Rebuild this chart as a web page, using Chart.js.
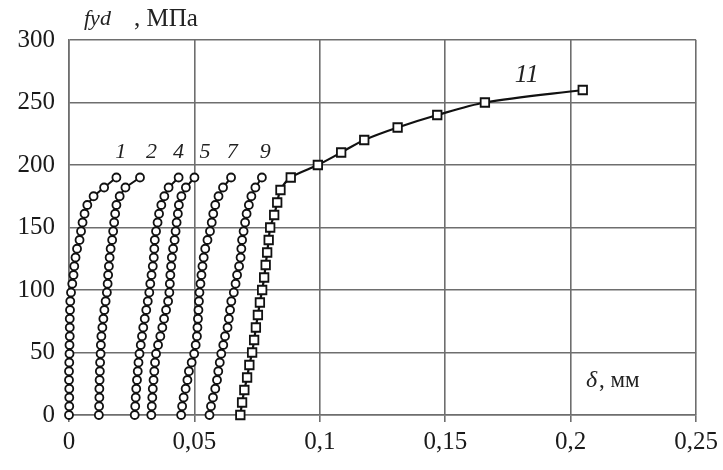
<!DOCTYPE html>
<html><head><meta charset="utf-8">
<script src="https://cdn.jsdelivr.net/npm/chart.js@4.4.1/dist/chart.umd.min.js"></script>
<style>html,body{margin:0;padding:0;background:#fff;}</style>
</head><body>
<canvas id="c" width="723" height="470"></canvas>
<script>
// ---- data ----
const X_TICKS = [0, 0.05, 0.1, 0.15, 0.2, 0.25];
const Y_TICKS = [0, 50, 100, 150, 200, 250, 300];

// stress levels (MPa) of the circle-marked curves 1,2,4,5,7,9
const STRESS_C = [0,7,14,21,28,35,42,49,56,63,70,77,84,91,98,105,112,119,126,133,140,147,154,161,168,175,182,190];

// displacement (mm) of each circle curve at those stress levels
const DISP_1 = [0,0.0001,0.0001,0.0001,0,0,0.0001,0.0002,0.0002,0.0003,0.0003,0.0003,0.0004,0.0005,0.0008,0.0013,0.0018,0.0021,0.0026,0.0032,0.0042,0.0048,0.0054,0.0062,0.0073,0.0098,0.0140,0.0189];
const DISP_2 = [0.0119,0.0120,0.0121,0.0121,0.0122,0.0123,0.0124,0.0126,0.0127,0.0129,0.0133,0.0137,0.0141,0.0146,0.0151,0.0154,0.0156,0.0159,0.0162,0.0166,0.0172,0.0176,0.0180,0.0184,0.0189,0.0202,0.0225,0.0283];
const DISP_4 = [0.0262,0.0264,0.0266,0.0268,0.0271,0.0274,0.0277,0.0281,0.0286,0.0291,0.0296,0.0302,0.0308,0.0314,0.0320,0.0324,0.0329,0.0334,0.0338,0.0340,0.0342,0.0347,0.0353,0.0359,0.0368,0.0380,0.0397,0.0437];
const DISP_5 = [0.0328,0.0330,0.0332,0.0334,0.0337,0.0340,0.0343,0.0347,0.0355,0.0364,0.0372,0.0379,0.0387,0.0395,0.0400,0.0402,0.0404,0.0407,0.0410,0.0415,0.0421,0.0425,0.0429,0.0434,0.0438,0.0448,0.0466,0.0500];
const DISP_7 = [0.0447,0.0451,0.0457,0.0465,0.0472,0.0478,0.0489,0.0499,0.0505,0.0510,0.0512,0.0514,0.0516,0.0518,0.0520,0.0524,0.0528,0.0532,0.0537,0.0543,0.0552,0.0562,0.0569,0.0575,0.0583,0.0596,0.0614,0.0646];
const DISP_9 = [0.0560,0.0566,0.0574,0.0583,0.0590,0.0595,0.0601,0.0607,0.0615,0.0622,0.0632,0.0637,0.0642,0.0647,0.0657,0.0664,0.0670,0.0678,0.0684,0.0687,0.0690,0.0696,0.0702,0.0708,0.0717,0.0727,0.0743,0.0769];

// curve 11 (square markers)
const STRESS_11 = [0,10,20,30,40,50,60,70,80,90,100,110,120,130,140,150,160,170,180,190,200,210,220,230,240,250,260];
const DISP_11 = [0.0683,0.0690,0.0699,0.0710,0.0719,0.0730,0.0738,0.0745,0.0753,0.0761,0.0770,0.0778,0.0784,0.0790,0.0796,0.0802,0.0818,0.0830,0.0843,0.0884,0.0992,0.1085,0.1177,0.1310,0.1468,0.1658,0.2048];

// curve number labels and where they sit (data coords)
const CURVE_NAMES = ['1','2','4','5','7','9','11'];
const LABEL_X = [0.0206,0.0329,0.0437,0.0542,0.0651,0.0782,0.1825];
const LABEL_Y = [210,210,210,210,210,210,272];

// ---- chart ----
const circleSets = [DISP_1, DISP_2, DISP_4, DISP_5, DISP_7, DISP_9].map((xs, i) => ({
  label: CURVE_NAMES[i],
  data: xs.map((x, k) => ({x: x, y: STRESS_C[k]})),
  showLine: true,
  clip: false,
  borderColor: '#111',
  borderWidth: 2,
  pointStyle: 'circle',
  pointRadius: 4,
  pointBorderWidth: 1.8,
  pointBackgroundColor: '#fff',
  pointBorderColor: '#111',
  tension: 0
}));
const squareSet = {
  label: CURVE_NAMES[6],
  data: DISP_11.map((x, k) => ({x: x, y: STRESS_11[k]})),
  showLine: true,
  clip: false,
  borderColor: '#111',
  borderWidth: 2.2,
  pointStyle: 'rect',
  pointRadius: 6,
  pointBorderWidth: 1.8,
  pointBackgroundColor: '#fff',
  pointBorderColor: '#111',
  tension: 0.3
};

const serif = '"Liberation Serif", "DejaVu Serif", serif';

const annotate = {
  id: 'annotate',
  afterDatasetsDraw(chart) {
    const ctx = chart.ctx;
    const xs = chart.scales.x, ys = chart.scales.y;
    ctx.save();
    ctx.fillStyle = '#222';
    ctx.textAlign = 'center';
    ctx.textBaseline = 'middle';
    CURVE_NAMES.forEach((n, i) => {
      ctx.font = 'italic ' + (n === '11' ? 26 : 22) + 'px ' + serif;
      ctx.fillText(n, xs.getPixelForValue(LABEL_X[i]), ys.getPixelForValue(LABEL_Y[i]));
    });
    // axis titles
    ctx.textAlign = 'left';
    ctx.textBaseline = 'alphabetic';
    ctx.font = 'italic 22px ' + serif;
    ctx.fillText('fyd', 84, 25);
    ctx.font = '25px ' + serif;
    ctx.fillText(', МПа', 134, 26);
    ctx.font = 'italic 24px ' + serif;
    ctx.fillText('δ', 586, 387);
    ctx.font = '23px ' + serif;
    ctx.fillText(', мм', 599, 387);
    ctx.restore();
  }
};

new Chart(document.getElementById('c'), {
  type: 'scatter',
  data: { datasets: [...circleSets, squareSet] },
  options: {
    responsive: false,
    animation: false,
    devicePixelRatio: 1,
    layout: { padding: { top: 40, right: 23, left: 0, bottom: 0 } },
    plugins: { legend: { display: false }, tooltip: { enabled: false } },
    scales: {
      x: {
        type: 'linear',
        min: X_TICKS[0], max: X_TICKS[X_TICKS.length - 1],
        afterBuildTicks(s) { s.ticks = X_TICKS.map(v => ({value: v})); },
        afterFit(s) { s.height = 55; },
        grid: { color: '#6e6e6e', lineWidth: 1.6, tickLength: 7, drawTicks: true, tickColor: '#6e6e6e' },
        border: { color: '#6e6e6e', width: 1.6 },
        ticks: {
          color: '#1a1a1a', font: { family: serif, size: 25 }, padding: 5, maxRotation: 0,
          callback: v => Number(v.toFixed(2)).toString().replace('.', ',')
        }
      },
      y: {
        type: 'linear',
        min: Y_TICKS[0], max: Y_TICKS[Y_TICKS.length - 1],
        afterBuildTicks(s) { s.ticks = Y_TICKS.map(v => ({value: v})); },
        afterFit(s) { s.width = 69; },
        grid: { color: '#6e6e6e', lineWidth: 1.6, drawTicks: false },
        border: { color: '#6e6e6e', width: 1.6 },
        ticks: { color: '#1a1a1a', font: { family: serif, size: 25 }, padding: 14 }
      }
    }
  },
  plugins: [annotate]
});
</script>
</body></html>
